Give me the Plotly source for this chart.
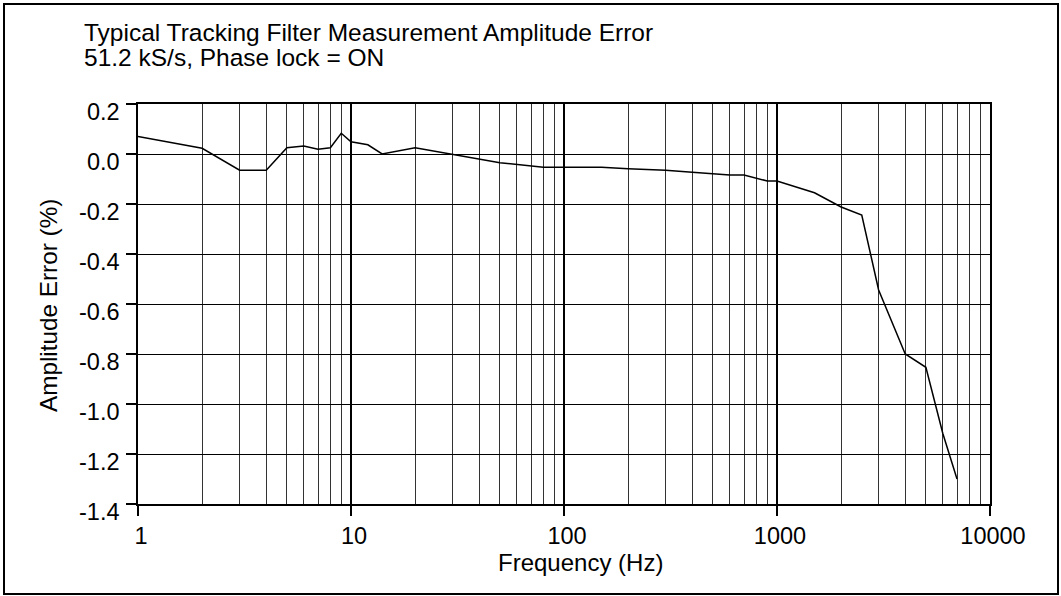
import plotly.graph_objects as go

# ---- data ----
freq_hz = [1, 2, 3, 4, 5, 6, 7, 8, 9, 10, 12, 14, 20, 50, 80, 150, 200, 300, 400,
           500, 600, 700, 900, 1000, 1500, 2000, 2500, 3000, 4000, 5000, 6000, 7000]
amplitude_error_pct = [0.07, 0.023, -0.065, -0.065, 0.025, 0.032, 0.019, 0.025, 0.083,
                       0.049, 0.037, 0.0, 0.025, -0.035, -0.053, -0.053, -0.059, -0.065,
                       -0.073, -0.079, -0.084, -0.084, -0.108, -0.108, -0.155, -0.212,
                       -0.244, -0.544, -0.80, -0.853, -1.117, -1.30]

x_tick_vals = [1, 10, 100, 1000, 10000]
x_tick_labels = ["1", "10", "100", "1000", "10000"]
x_minor_vals = [m * d for d in (1, 10, 100, 1000) for m in range(2, 10)]
y_tick_vals = [0.2, 0.0, -0.2, -0.4, -0.6, -0.8, -1.0, -1.2, -1.4]
y_tick_labels = ["0.2", "0.0", "-0.2", "-0.4", "-0.6", "-0.8", "-1.0", "-1.2", "-1.4"]

title_line1 = "Typical Tracking Filter Measurement Amplitude Error"
title_line2 = "51.2 kS/s, Phase lock = ON"
x_title = "Frequency (Hz)"
y_title = "Amplitude Error (%)"

# ---- layout geometry (pixels) ----
W, H = 1061, 596
ML, MR, MT, MB = 138, 71, 104, 92
PW, PH = W - ML - MR, H - MT - MB


def px_x(px):
    return (px - ML) / PW


def px_y(py):
    return (H - MB - py) / PH


FONT = "Liberation Sans, Arial, sans-serif"
TICK_SIZE = 23.5
TITLE_SIZE = 24.5

fig = go.Figure()
fig.add_trace(go.Scatter(
    x=freq_hz, y=amplitude_error_pct, mode="lines",
    line=dict(color="black", width=1.5), showlegend=False,
))

fig.update_layout(
    width=W, height=H,
    margin=dict(l=ML, r=MR, t=MT, b=MB, pad=0),
    paper_bgcolor="white", plot_bgcolor="white",
    font=dict(family=FONT, size=TICK_SIZE, color="black"),
    xaxis=dict(
        type="log", range=[0, 4],
        tickmode="array", tickvals=x_tick_vals, ticktext=x_tick_labels,
        ticks="outside", ticklen=10, tickwidth=1.5, tickcolor="black",
        showgrid=True, gridcolor="black", gridwidth=1.6,
        showline=True, linecolor="black", linewidth=1.5, mirror=True,
        tickfont=dict(size=TICK_SIZE, family=FONT, color="black"),
        ticklabelshift=3,
        minor=dict(tickmode="array", tickvals=x_minor_vals, showgrid=True,
                   gridcolor="#333333", gridwidth=1, ticks=""),
        zeroline=False,
    ),
    yaxis=dict(
        range=[-1.4, 0.2],
        tickmode="array", tickvals=y_tick_vals, ticktext=y_tick_labels,
        ticks="outside", ticklen=10, tickwidth=1.5, tickcolor="black",
        showgrid=True, gridcolor="black", gridwidth=1,
        showline=True, linecolor="black", linewidth=1.5, mirror=True,
        tickfont=dict(size=TICK_SIZE, family=FONT, color="black"),
        ticklabelshift=8, ticklabelstandoff=2,
        zeroline=False,
    ),
    shapes=[dict(type="rect", xref="paper", yref="paper",
                 x0=px_x(4), x1=px_x(1058), y0=px_y(594), y1=px_y(4),
                 line=dict(color="black", width=2), fillcolor="rgba(0,0,0,0)",
                 layer="below")],
    annotations=[
        dict(text=title_line1, xref="paper", yref="paper", x=px_x(82), y=px_y(32),
             xanchor="left", yanchor="middle", showarrow=False,
             font=dict(size=TITLE_SIZE, family=FONT, color="black")),
        dict(text=title_line2, xref="paper", yref="paper", x=px_x(82), y=px_y(57.5),
             xanchor="left", yanchor="middle", showarrow=False,
             font=dict(size=TITLE_SIZE, family=FONT, color="black")),
        dict(text=x_title, xref="paper", yref="paper", x=px_x(580), y=px_y(562.5),
             xanchor="center", yanchor="middle", showarrow=False,
             font=dict(size=24, family=FONT, color="black")),
        dict(text=y_title, xref="paper", yref="paper", x=px_x(48), y=px_y(306),
             xanchor="center", yanchor="middle", showarrow=False, textangle=-90,
             font=dict(size=24.3, family=FONT, color="black")),
    ],
)

fig.write_html("out.html", config={"displayModeBar": False},
               post_script="document.body.style.margin='0';")
